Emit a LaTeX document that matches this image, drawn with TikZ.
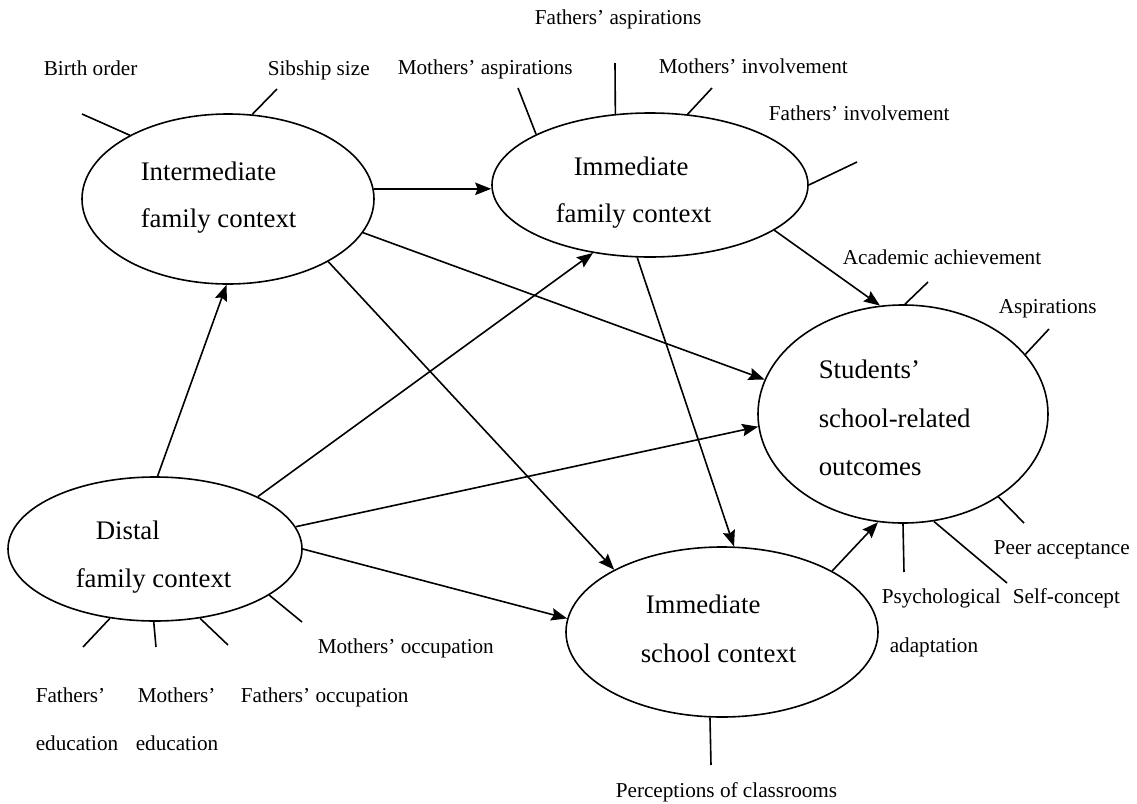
\documentclass[tikz,border=0pt]{standalone}
\usepackage{fontspec}
\setmainfont{Liberation Serif}
\usetikzlibrary{arrows.meta,shapes.geometric}
\begin{document}
\begin{tikzpicture}[x=0.5pt,y=-0.5pt,
  line width=0.8pt,
  ctx/.style={draw, ellipse, inner sep=0pt},
  big/.style={font=\fontsize{13.4}{16}\selectfont, anchor=base west, inner sep=0pt},
  lab/.style={font=\fontsize{10.6}{13}\selectfont, anchor=base west, inner sep=0pt},
  arr/.style={-{Stealth[length=8pt,width=6.2pt,inset=1.2pt]}}]
\useasboundingbox (0,0) rectangle (1137,804);
\fill[white] (0,0) rectangle (1137,804);

% context ellipses
\node[ctx, minimum width=146pt, minimum height=85pt] (inter) at (228,199) {};
\node[ctx, minimum width=158pt, minimum height=72pt] (fam) at (650,185) {};
\node[ctx, minimum width=145pt, minimum height=109pt] (stu) at (903,414) {};
\node[ctx, minimum width=147pt, minimum height=72pt] (dis) at (155,549) {};
\node[ctx, minimum width=156pt, minimum height=85pt] (sch) at (722,632) {};

% ellipse texts
\node[big] (inter-1) at (140,180) {Intermediate};
\node[big] (inter-2) at (140,227) {family context};
\node[big] (fam-1) at (573,175) {Immediate};
\node[big] (fam-2) at (555,222) {family context};
\node[big] (stu-1) at (818,378) {Students’};
\node[big] (stu-2) at (818,427) {school-related};
\node[big] (stu-3) at (818,475) {outcomes};
\node[big] (dis-1) at (95,539) {Distal};
\node[big] (dis-2) at (75,587) {family context};
\node[big] (sch-1) at (645,613) {Immediate};
\node[big] (sch-2) at (640,662) {school context};

% indicator labels
\node[lab] (l-birth) at (43,75) {Birth order};
\node[lab] (l-sib) at (267,75) {Sibship size};
\node[lab] (l-masp) at (397,74) {Mothers’ aspirations};
\node[lab] (l-fasp) at (534,24) {Fathers’ aspirations};
\node[lab] (l-minv) at (658,73) {Mothers’ involvement};
\node[lab] (l-finv) at (768,120) {Fathers’ involvement};
\node[lab] (l-acad) at (842,264) {Academic achievement};
\node[lab] (l-asp) at (998,313) {Aspirations};
\node[lab] (l-peer) at (993,554) {Peer acceptance};
\node[lab] (l-psy1) at (881,603) {Psychological};
\node[lab] (l-psy2) at (889,652) {adaptation};
\node[lab] (l-self) at (1012,603) {Self-concept};
\node[lab] (l-perc) at (615,797) {Perceptions of classrooms};
\node[lab] (l-mocc) at (317,653) {Mothers’ occupation};
\node[lab] (l-focc) at (240,702) {Fathers’ occupation};
\node[lab] (l-fedu1) at (35,702) {Fathers’};
\node[lab] (l-fedu2) at (35,750) {education};
\node[lab] (l-medu1) at (137,702) {Mothers’};
\node[lab] (l-medu2) at (135,750) {education};

% free ends of indicator spokes
\coordinate (c-birth) at (82,114);
\coordinate (c-sib) at (277,89);
\coordinate (c-masp) at (518,88);
\coordinate (c-fasp) at (615,63);
\coordinate (c-minv) at (712,88);
\coordinate (c-finv) at (857,162);
\coordinate (c-acad) at (928,282);
\coordinate (c-asp) at (1049,329);
\coordinate (c-peer) at (1024,523);
\coordinate (c-psy) at (904,572);
\coordinate (c-self) at (1007,583);
\coordinate (c-perc) at (711,765);
\coordinate (c-fedu) at (83,647);
\coordinate (c-medu) at (156,647);
\coordinate (c-focc) at (228,645);
\coordinate (c-mocc) at (302,622);

% spokes
\draw (inter.147.6) -- (c-birth);
\draw (inter.74.1) -- (c-sib);
\draw (fam.156.0) -- (c-masp);
\draw (fam.116.6) -- (c-fasp);
\draw (fam.62.8) -- (c-minv);
\draw (fam.0.7) -- (c-finv);
\draw (stu.89) -- (c-acad);
\draw (stu.26.9) -- (c-asp);
\draw (stu.319.7) -- (c-peer);
\draw (stu.270.5) -- (c-psy);
\draw (stu.286.5) -- (c-self);
\draw (sch.262.6) -- (c-perc);
\draw (dis.237.2) -- (c-fedu);
\draw (dis.269.2) -- (c-medu);
\draw (dis.303.9) -- (c-focc);
\draw (dis.338.5) -- (c-mocc);

% paths
\draw[arr] (inter.4.7) -- (inter.4.7 -| fam.west);
\draw[arr] (dis.88.4) -- (inter.269.3);
\draw[arr] (dis.27.0) -- (fam.230.1);
\draw[arr] (dis.9.8) -- (stu.185.1);
\draw[arr] (dis.0) -- (sch.175.6);
\draw[arr] (inter.346.7) -- (stu.166.1);
\draw[arr] (inter.328.6) -- (sch.150.4);
\draw[arr] (fam.260.7) -- (sch.82.1);
\draw[arr] (fam.340.2) -- (stu.102.9);
\draw[arr] (sch.29.2) -- (stu.257.3);
\end{tikzpicture}
\end{document}
